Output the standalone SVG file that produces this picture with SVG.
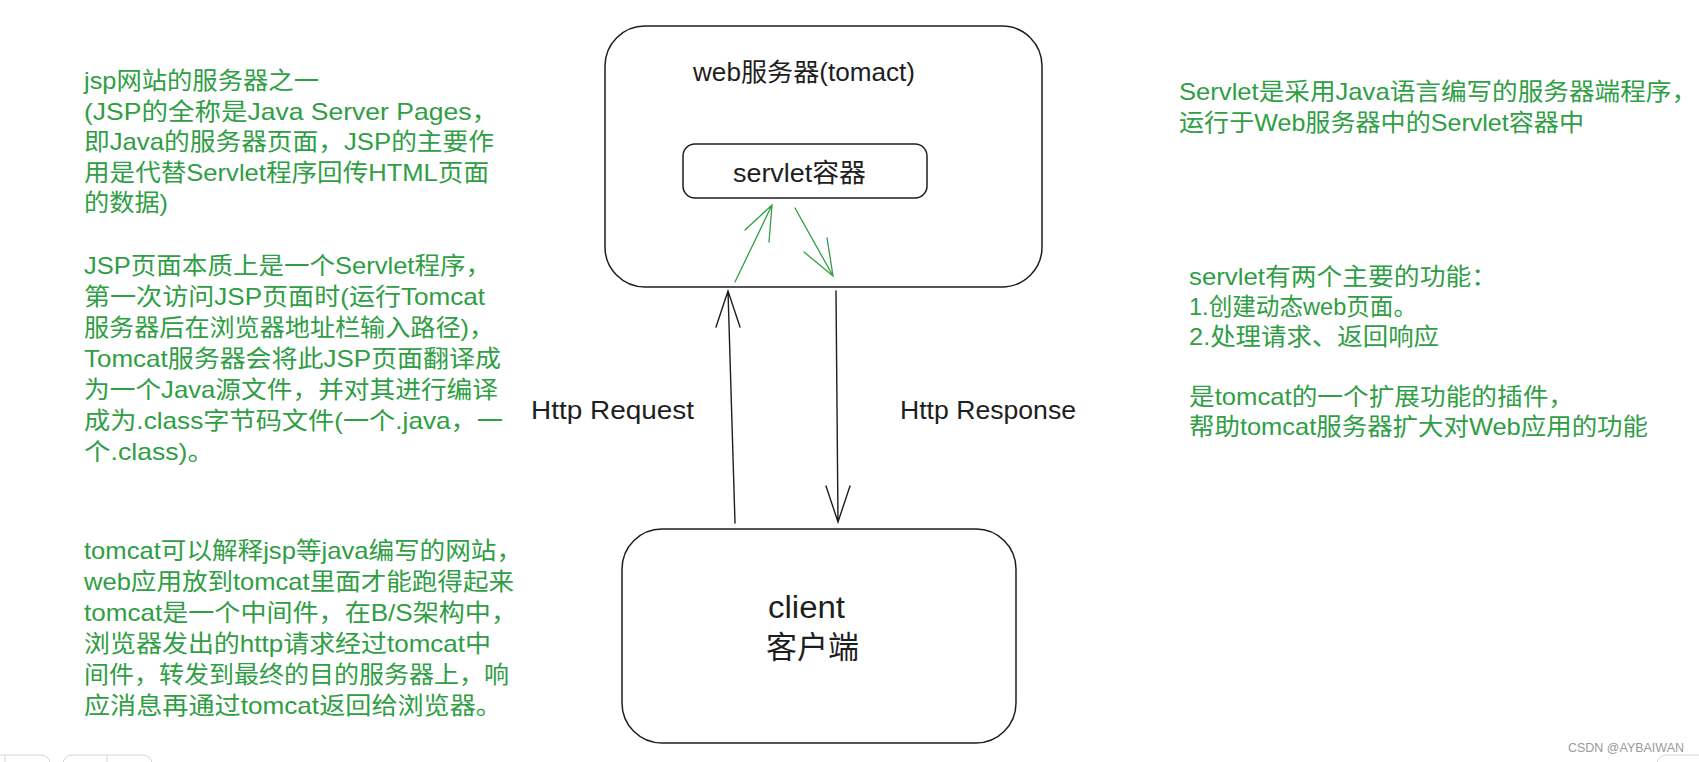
<svg xmlns="http://www.w3.org/2000/svg" width="1699" height="762" viewBox="0 0 1699 762">
<style>
.g{fill:#2f9e44;font-family:"Liberation Sans","Noto Sans CJK SC",sans-serif;font-size:24px}
.k{fill:#1e1e1e;font-family:"Liberation Sans","Noto Sans CJK SC",sans-serif}
.box{fill:none;stroke:#1e1e1e;stroke-width:1.5}
.bl{fill:none;stroke:#1e1e1e;stroke-width:1.4;stroke-linecap:round}
.gl{fill:none;stroke:#2f9e44;stroke-width:1.3;stroke-linecap:round}
.ui{fill:none;stroke:#d6d6d6;stroke-width:1}
</style>
<rect width="1699" height="762" fill="#ffffff"/>

<g id="note-jsp">
<text class="g" x="84" y="89" textLength="235" lengthAdjust="spacingAndGlyphs">jsp网站的服务器之一</text>
<text class="g" x="84" y="120" textLength="414" lengthAdjust="spacingAndGlyphs">(JSP的全称是Java Server Pages，</text>
<text class="g" x="84" y="150" textLength="410" lengthAdjust="spacingAndGlyphs">即Java的服务器页面，JSP的主要作</text>
<text class="g" x="84" y="181" textLength="405" lengthAdjust="spacingAndGlyphs">用是代替Servlet程序回传HTML页面</text>
<text class="g" x="84" y="211" textLength="84" lengthAdjust="spacingAndGlyphs">的数据)</text>
</g>

<g id="note-jsp-servlet">
<text class="g" x="84" y="274" textLength="407" lengthAdjust="spacingAndGlyphs">JSP页面本质上是一个Servlet程序，</text>
<text class="g" x="84" y="305" textLength="401" lengthAdjust="spacingAndGlyphs">第一次访问JSP页面时(运行Tomcat</text>
<text class="g" x="84" y="336" textLength="410" lengthAdjust="spacingAndGlyphs">服务器后在浏览器地址栏输入路径)，</text>
<text class="g" x="84" y="367" textLength="417" lengthAdjust="spacingAndGlyphs">Tomcat服务器会将此JSP页面翻译成</text>
<text class="g" x="84" y="398" textLength="414" lengthAdjust="spacingAndGlyphs">为一个Java源文件，并对其进行编译</text>
<text class="g" x="84" y="429" textLength="419" lengthAdjust="spacingAndGlyphs">成为.class字节码文件(一个.java，一</text>
<text class="g" x="84" y="460" textLength="130" lengthAdjust="spacingAndGlyphs">个.class)。</text>
</g>

<g id="note-tomcat">
<text class="g" x="84" y="559" textLength="438" lengthAdjust="spacingAndGlyphs">tomcat可以解释jsp等java编写的网站，</text>
<text class="g" x="84" y="590" textLength="430" lengthAdjust="spacingAndGlyphs">web应用放到tomcat里面才能跑得起来</text>
<text class="g" x="84" y="621" textLength="433" lengthAdjust="spacingAndGlyphs">tomcat是一个中间件，在B/S架构中，</text>
<text class="g" x="84" y="652" textLength="407" lengthAdjust="spacingAndGlyphs">浏览器发出的http请求经过tomcat中</text>
<text class="g" x="84" y="683" textLength="425" lengthAdjust="spacingAndGlyphs">间件，转发到最终的目的服务器上，响</text>
<text class="g" x="84" y="714" textLength="418" lengthAdjust="spacingAndGlyphs">应消息再通过tomcat返回给浏览器。</text>
</g>

<g id="note-servlet">
<text class="g" x="1179" y="100" textLength="518" lengthAdjust="spacingAndGlyphs">Servlet是采用Java语言编写的服务器端程序，</text>
<text class="g" x="1179" y="131" textLength="405" lengthAdjust="spacingAndGlyphs">运行于Web服务器中的Servlet容器中</text>
</g>

<g id="note-servlet-functions">
<text class="g" x="1189" y="285" textLength="308" lengthAdjust="spacingAndGlyphs">servlet有两个主要的功能：</text>
<text class="g" x="1189" y="315" textLength="228" lengthAdjust="spacingAndGlyphs">1.创建动态web页面。</text>
<text class="g" x="1189" y="345" textLength="250" lengthAdjust="spacingAndGlyphs">2.处理请求、返回响应</text>
<text class="g" x="1189" y="405" textLength="385" lengthAdjust="spacingAndGlyphs">是tomcat的一个扩展功能的插件，</text>
<text class="g" x="1189" y="435" textLength="459" lengthAdjust="spacingAndGlyphs">帮助tomcat服务器扩大对Web应用的功能</text>
</g>

<g id="web-server">
<rect class="box" x="605" y="26" width="437" height="261" rx="40"/>
<text class="k" x="693" y="81" font-size="25" textLength="222" lengthAdjust="spacingAndGlyphs">web服务器(tomact)</text>
</g>

<g id="servlet-container">
<rect class="box" x="683" y="144" width="244" height="54" rx="12"/>
<text class="k" x="733" y="182" font-size="26" textLength="133" lengthAdjust="spacingAndGlyphs">servlet容器</text>
</g>

<g id="client">
<rect class="box" x="622" y="529" width="394" height="214" rx="40"/>
<text class="k" x="768" y="618" font-size="31" textLength="77" lengthAdjust="spacingAndGlyphs">client</text>
<text class="k" x="766" y="658" font-size="31">客户端</text>
</g>

<g id="connectors">
<path class="bl" d="M735 523 L728 291 M716 327 L728 291 L740 327"/>
<path class="bl" d="M836 291 L838 522 M826 486 L838 522 L850 486"/>
<path class="gl" d="M735 282 L772 205 M745 230 L772 205 L769 242"/>
<path class="gl" d="M795 208 L833 276 M804 252 L833 276 L827 238"/>
<text class="k" x="531" y="419" font-size="26" textLength="163" lengthAdjust="spacingAndGlyphs">Http Request</text>
<text class="k" x="900" y="419" font-size="26" textLength="176" lengthAdjust="spacingAndGlyphs">Http Response</text>
</g>

<g id="ui">
<rect class="ui" x="-20" y="755" width="70" height="30" rx="9"/>
<line class="ui" x1="5" y1="755" x2="5" y2="762"/>
<rect class="ui" x="63" y="755" width="89" height="30" rx="9"/>
<line class="ui" x1="107" y1="755" x2="107" y2="762"/>
<rect class="ui" x="1657" y="755" width="70" height="30" rx="9"/>
<text x="1568" y="752" font-family="Liberation Sans, sans-serif" font-size="13" fill="#9a9a9a" textLength="116" lengthAdjust="spacingAndGlyphs">CSDN @AYBAIWAN</text>
</g>
</svg>
